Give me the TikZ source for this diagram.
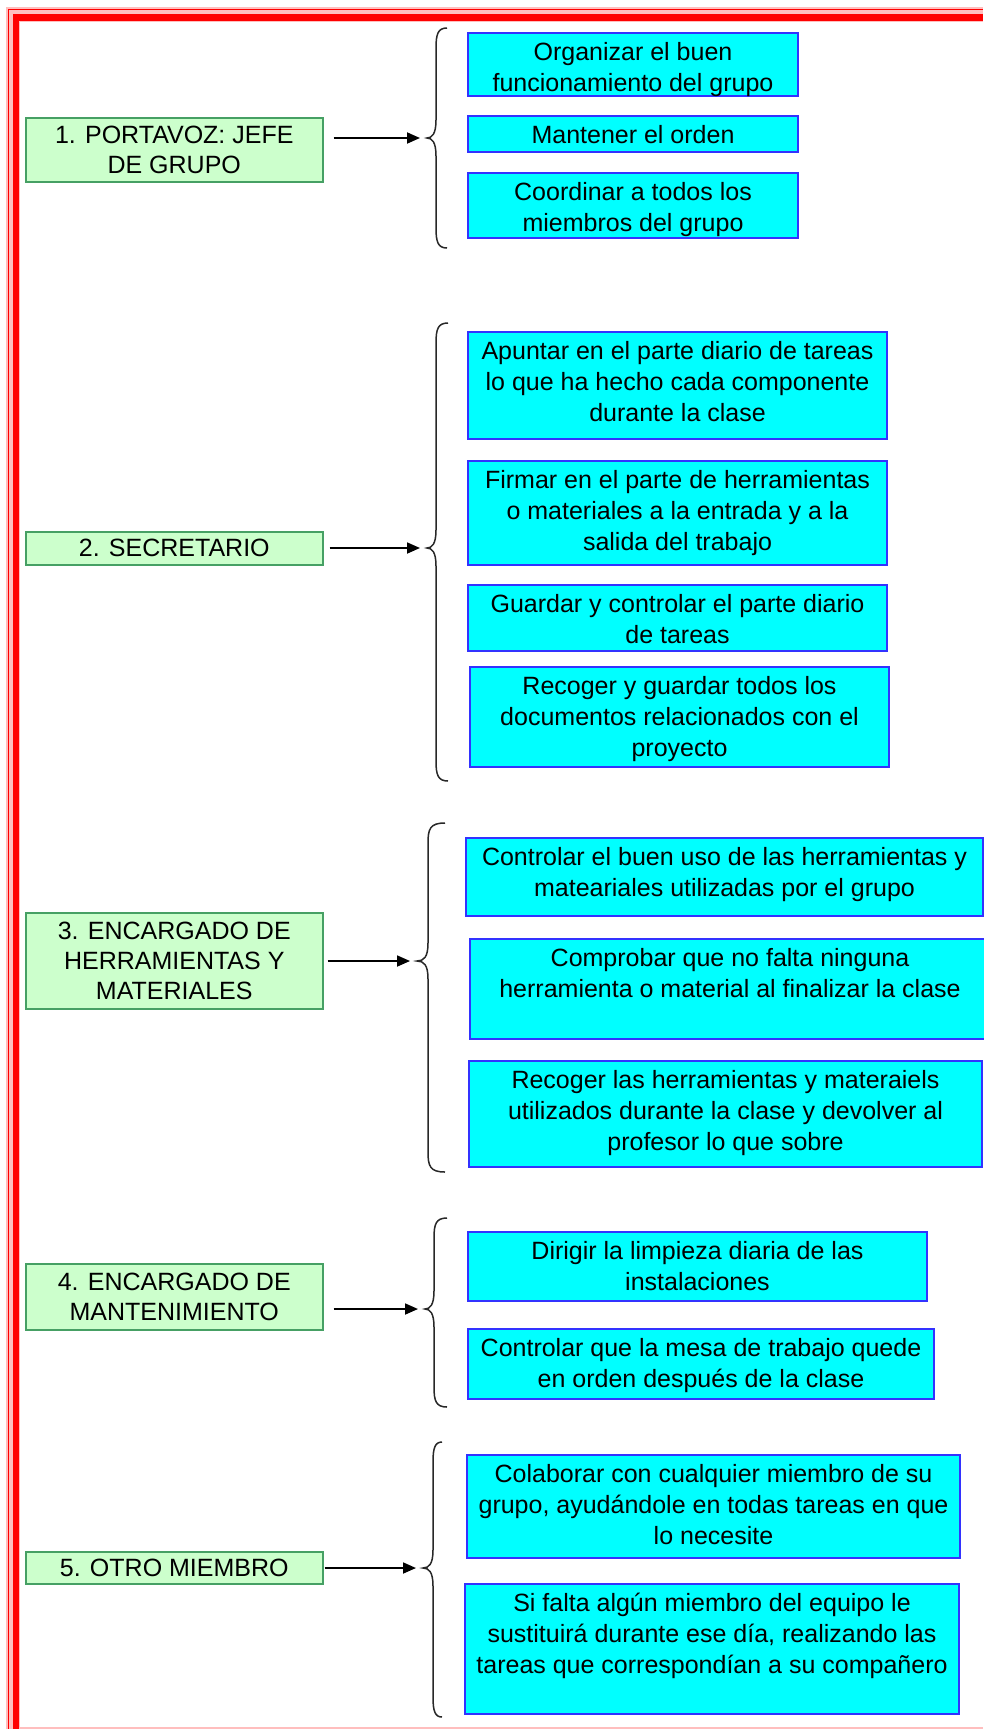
\documentclass[tikz,border=0pt]{standalone}
\usepackage{fontspec}
\setmainfont{Liberation Sans}
\usetikzlibrary{arrows.meta}
\definecolor{gfill}{RGB}{204,255,204}
\definecolor{gdraw}{RGB}{70,160,100}
\definecolor{bfill}{RGB}{0,255,255}
\definecolor{bdraw}{RGB}{50,50,255}
\definecolor{framered}{RGB}{255,0,0}
\definecolor{framepink}{RGB}{255,190,190}
\definecolor{bracegray}{RGB}{40,40,40}
\newcommand\bx[6]{\node[bluebox, anchor=north west] (#1) at (#2,#3) {\parbox[c][#5pt][t]{#4pt}{\centering\rule{0pt}{27pt}#6\par}};}
\newcommand\brc[6]{\draw[bracestyle] (#1,#4) .. controls (#2+2,#4) and (#2,#4+6) .. (#2,#4+20) -- (#2,#5-18) .. controls (#2,#5-4) and (#2-4,#5) .. (#3,#5) .. controls (#2-4,#5) and (#2,#5+4) .. (#2,#5+18) -- (#2,#6-20) .. controls (#2,#6-6) and (#2+2,#6) .. (#1,#6);}
\begin{document}
\begin{tikzpicture}[x=1pt,y=-1pt,
  bluebox/.style={draw=bdraw, fill=bfill, line width=2pt, inner sep=0pt, font=\fontsize{25}{31}\selectfont},
  greenbox/.style={draw=gdraw, fill=gfill, line width=1.5pt, inner sep=0pt, align=center, anchor=north west, minimum width=297pt, font=\fontsize{25}{30}\selectfont},
  bracestyle/.style={draw=bracegray, line width=1.5pt},
  arr/.style={draw=black, line width=1.8pt, -{Triangle[length=13pt,width=11pt]}}]
\useasboundingbox (0,0) rectangle (983,1729);
\fill[white] (0,0) rectangle (983,1729);
% frame
\fill[framepink] (6,1729) rectangle (20,7);
\fill[framepink] (6,7) rectangle (983,22);
\draw[framered, line width=1.6pt] (8.5,1729) -- (8.5,9.5) -- (983,9.5);
\draw[framered, line width=6.5pt] (16,1729) -- (16,17.5) -- (983,17.5);
\draw[framepink, line width=1.5pt] (19,1728) -- (983,1728);

% group 1
\node[greenbox, minimum height=64pt] (g1) at (25,117) {1. PORTAVOZ: JEFE\\DE GRUPO};
\brc{447}{436}{427}{28}{138}{248}
\coordinate (t1) at (420,138);
\draw[arr, shorten <=10pt] (g1.east |- t1) -- (t1);
\bx{b1a}{467}{32}{330}{63}{Organizar el buen\\funcionamiento del grupo}
\bx{b1b}{467}{115}{330}{36}{Mantener el orden}
\bx{b1c}{467}{172}{330}{65}{Coordinar a todos los\\miembros del grupo}

% group 2
\node[greenbox, minimum height=33pt] (g2) at (25,531) {2. SECRETARIO};
\brc{448}{436}{427}{323}{548}{781}
\coordinate (t2) at (420,548);
\draw[arr, shorten <=6pt] (g2.east |- t2) -- (t2);
\bx{b2a}{467}{331}{419}{107}{Apuntar en el parte diario de tareas\\lo que ha hecho cada componente\\durante la clase}
\bx{b2b}{467}{460}{419}{104}{Firmar en el parte de herramientas\\o materiales a la entrada y a la\\salida del trabajo}
\bx{b2c}{467}{584}{419}{66}{Guardar y controlar el parte diario\\de tareas}
\bx{b2d}{469}{666}{419}{100}{Recoger y guardar todos los\\documentos relacionados con el\\proyecto}

% group 3
\node[greenbox, minimum height=96pt] (g3) at (25,912) {3. ENCARGADO DE\\HERRAMIENTAS Y\\MATERIALES};
\brc{445}{428}{417}{823}{961}{1172}
\coordinate (t3) at (410,961);
\draw[arr, shorten <=4pt] (g3.east |- t3) -- (t3);
\bx{b3a}{465}{837}{517}{78}{Controlar el buen uso de las herramientas y\\mateariales utilizadas por el grupo}
\bx{b3b}{469}{938}{520}{100}{Comprobar que no falta ninguna\\herramienta o material al finalizar la clase}
\bx{b3c}{468}{1060}{513}{106}{Recoger las herramientas y materaiels\\utilizados durante la clase y devolver al\\profesor lo que sobre}

% group 4
\node[greenbox, minimum height=66pt] (g4) at (25,1263) {4. ENCARGADO DE\\MANTENIMIENTO};
\brc{447}{434}{425}{1218}{1309}{1407}
\coordinate (t4) at (418,1309);
\draw[arr, shorten <=10pt] (g4.east |- t4) -- (t4);
\bx{b4a}{467}{1231}{459}{69}{Dirigir la limpieza diaria de las\\instalaciones}
\bx{b4b}{467}{1328}{466}{70}{Controlar que la mesa de trabajo quede\\en orden después de la clase}

% group 5
\node[greenbox, minimum height=32pt] (g5) at (25,1551) {5. OTRO MIEMBRO};
\brc{442}{433}{423}{1442}{1568}{1717}
\coordinate (t5) at (416,1568);
\draw[arr, shorten <=1pt] (g5.east |- t5) -- (t5);
\bx{b5a}{466}{1454}{493}{103}{Colaborar con cualquier miembro de su\\grupo, ayudándole en todas tareas en que\\lo necesite}
\bx{b5b}{464}{1583}{494}{130}{Si falta algún miembro del equipo le\\sustituirá durante ese día, realizando las\\tareas que correspondían a su compañero}
\end{tikzpicture}
\end{document}
